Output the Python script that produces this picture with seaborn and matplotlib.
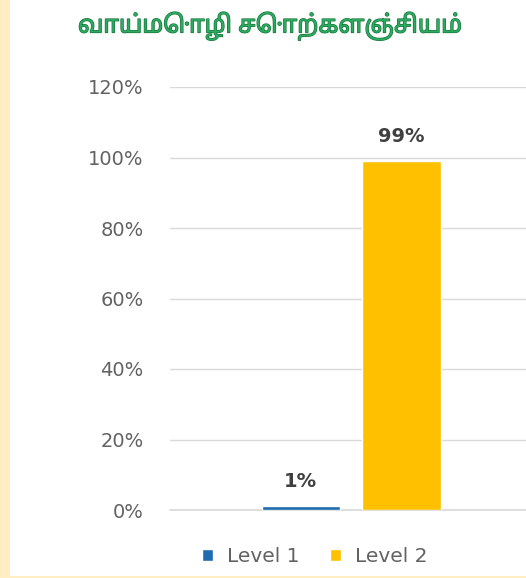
import os
import matplotlib
matplotlib.use("Agg")
import matplotlib.pyplot as plt
from matplotlib import font_manager as fm
from matplotlib.patches import Rectangle
import matplotlib.patheffects as pe
import pandas as pd
import seaborn as sns

# ---- data ----
title = "வாய்மொழி சொற்களஞ்சியம்"
category = ["வாய்மொழி சொற்களஞ்சியம்"]
levels = ["Level 1", "Level 2"]
values = [1, 99]
level_colors = ["#1F6BB0", "#FFC000"]
yticks = [0, 20, 40, 60, 80, 100, 120]

tamil_path = "/usr/share/fonts/truetype/google-fonts/NotoSansTamil[wdth,wght].ttf"
if os.path.exists(tamil_path):
    fm.fontManager.addfont(tamil_path)

sns.set_theme(style="white")
plt.rcParams["font.family"] = ["DejaVu Sans"]

W, H = 526, 578
fig = plt.figure(figsize=(W / 100, H / 100), dpi=100)
fig.patch.set_facecolor("white")

# decorative strips
fig.patches.append(Rectangle((0, 0), 10 / W, 1, transform=fig.transFigure,
                             facecolor="#FFEEC4", edgecolor="none", zorder=0))
fig.patches.append(Rectangle((0, 0), 1, 2 / H, transform=fig.transFigure,
                             facecolor="#FFEEC4", edgecolor="none", zorder=0))

ax = fig.add_axes([170 / W, (H - 510) / H, 356 / W, 423 / H])
df = pd.DataFrame({"category": category * len(levels), "level": levels, "value": values})
sns.barplot(data=df, x="category", y="value", hue="level", hue_order=levels,
            palette=level_colors, width=0.8, gap=0.225, saturation=1,
            ax=ax, legend=True)

ax.set_xlim(-0.718, 0.694)
ax.set_ylim(0, 120)
ax.set_yticks(yticks)
ax.set_yticklabels([f"{v}%" for v in yticks], fontsize=14, color="#626262")
ax.set_xticks([])
ax.set_xlabel("")
ax.set_ylabel("")
ax.tick_params(axis="y", length=0, pad=19)
ax.yaxis.grid(True, color="#D9D9D9", linewidth=1.0)
ax.axhline(0, color="#D9D9D9", linewidth=1.2, clip_on=False, zorder=0.5)
ax.set_axisbelow(True)
for s in ax.spines.values():
    s.set_visible(False)

for cont in ax.containers:
    ax.bar_label(cont, labels=[f"{v:g}%" for v in cont.datavalues],
                 padding=11, fontsize=14, fontweight="bold", color="#404040")

handles, labels_ = ax.get_legend_handles_labels()
ax.legend_.remove()
fig.legend(handles, labels_, loc="center", bbox_to_anchor=(315 / W, 21 / H),
           ncol=2, frameon=False, fontsize=14.5, labelcolor="#626262",
           handlelength=0.55, handleheight=0.55, handletextpad=0.7,
           columnspacing=1.5)

fig.text(270 / W, 1 - 26 / H, title, ha="center", va="center",
         fontsize=17.5, family=["Noto Sans Tamil", "DejaVu Sans"], color="#2BAA60",
         path_effects=[pe.withStroke(linewidth=0.9, foreground="#137035")])

fig.savefig("out.png", dpi=100, facecolor="white")
